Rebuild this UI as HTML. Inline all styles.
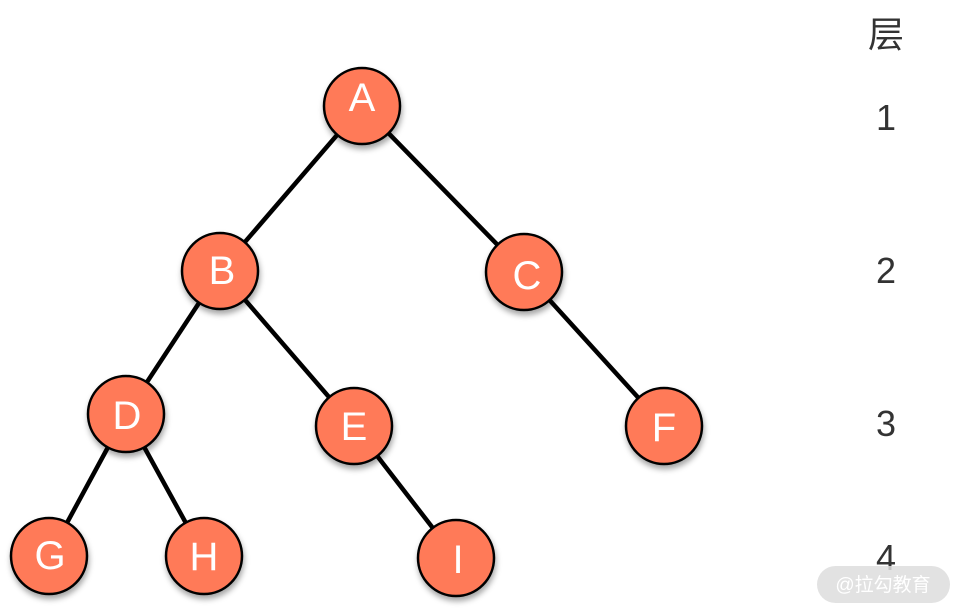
<!DOCTYPE html>
<html><head><meta charset="utf-8"><style>
html,body{margin:0;padding:0;background:#fff;width:964px;height:615px;overflow:hidden}
</style></head><body>
<svg width="964" height="615" viewBox="0 0 964 615" xmlns="http://www.w3.org/2000/svg">
<defs><filter id="sh" x="-30%" y="-30%" width="160%" height="170%"><feDropShadow dx="1" dy="4" stdDeviation="3" flood-color="#000" flood-opacity="0.35"/></filter></defs>
<g stroke="#000" stroke-width="4.5" fill="none">
<line x1="362" y1="106" x2="220" y2="271"/>
<line x1="362" y1="106" x2="524" y2="272"/>
<line x1="220" y1="271" x2="126" y2="414"/>
<line x1="220" y1="271" x2="354" y2="426"/>
<line x1="524" y1="272" x2="664" y2="426"/>
<line x1="126" y1="414" x2="49" y2="556"/>
<line x1="126" y1="414" x2="204" y2="556"/>
<line x1="354" y1="426" x2="456" y2="558"/>
</g>
<g fill="#FF7A59" stroke="#000" stroke-width="2.5" filter="url(#sh)">
<circle cx="362" cy="106" r="38"/>
<circle cx="220" cy="271" r="38"/>
<circle cx="524" cy="272" r="38"/>
<circle cx="126" cy="414" r="38"/>
<circle cx="354" cy="426" r="38"/>
<circle cx="664" cy="426" r="38"/>
<circle cx="49" cy="556" r="38"/>
<circle cx="204" cy="556" r="38"/>
<circle cx="456" cy="558" r="38"/>
</g>
<g fill="#fff" font-family="Liberation Sans, sans-serif" font-size="40" text-anchor="middle">
<text x="362" y="111">A</text>
<text x="222" y="284">B</text>
<text x="527" y="289">C</text>
<text x="127" y="429">D</text>
<text x="354" y="440">E</text>
<text x="664" y="441">F</text>
<text x="50" y="569">G</text>
<text x="204" y="570">H</text>
<text x="458" y="573">I</text>
</g>
<g fill="#333" font-family="Liberation Sans, 'Noto Sans CJK SC', sans-serif" font-size="36" text-anchor="middle">
<text x="886" y="47">层</text>
<text x="886" y="130">1</text>
<text x="886" y="283">2</text>
<text x="886" y="436">3</text>
<text x="886" y="570">4</text>
</g>
<rect x="817" y="566" width="133" height="37" rx="18.5" fill="#ddd" opacity="0.85"/>
<text x="883" y="591" fill="#fff" font-family="Liberation Sans, 'Noto Sans CJK SC', sans-serif" font-size="19" text-anchor="middle">@拉勾教育</text>
</svg>
</body></html>
